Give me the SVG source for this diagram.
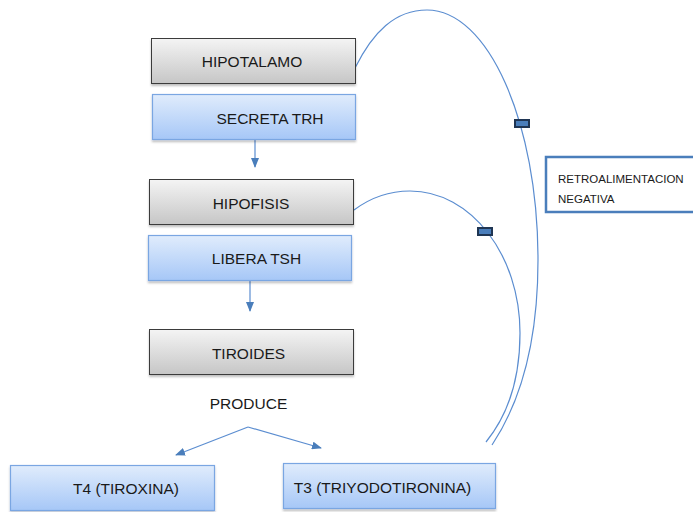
<svg xmlns="http://www.w3.org/2000/svg" width="693" height="512" viewBox="0 0 693 512">
<defs>
<linearGradient id="gGray" x1="0" y1="0" x2="0" y2="1"><stop offset="0" stop-color="#f4f4f4"/><stop offset="1" stop-color="#c6c6c6"/></linearGradient>
<linearGradient id="gBlue" x1="0" y1="0" x2="0" y2="1"><stop offset="0" stop-color="#e0ecfc"/><stop offset="1" stop-color="#a6c7f7"/></linearGradient>
<filter id="sh" x="-5%" y="-10%" width="110%" height="130%"><feDropShadow dx="0" dy="2" stdDeviation="1.2" flood-color="#000" flood-opacity="0.25"/></filter>
<marker id="ah" markerWidth="10" markerHeight="8" refX="9" refY="4" orient="auto" markerUnits="userSpaceOnUse"><path d="M0,0 L10,4 L0,8 Z" fill="#4a7ebb"/></marker>
</defs>
<style>
.gray{fill:url(#gGray);stroke:#3a3a3a;stroke-width:1;filter:url(#sh)}
.blue{fill:url(#gBlue);stroke:#7aa6e2;stroke-width:1.2;filter:url(#sh)}
.t{font-family:"Liberation Sans",Arial,sans-serif;font-size:15.5px;fill:#1a1a1a;text-anchor:middle}
.s{font-family:"Liberation Sans",Arial,sans-serif;font-size:11.5px;fill:#1a1a1a}
.ln{fill:none;stroke:#5b8dd0;stroke-width:1.2}
.mk{fill:#4a7ebb;stroke:#1f3553;stroke-width:2}
</style>
<g id="connectors">
<line class="ln" x1="255" y1="139" x2="255" y2="167" marker-end="url(#ah)"/>
<line class="ln" x1="250" y1="280" x2="250" y2="311" marker-end="url(#ah)"/>
<path class="ln" d="M248,427 L176,455" marker-end="url(#ah)"/>
<path class="ln" d="M248,427 L321,448" marker-end="url(#ah)"/>
<path class="ln" d="M355,68 C373,32 395,10 427,10 C488,10 538,122 538,260 C538,340 522,400 492,445"/>
<path class="ln" d="M354,210 C370,198 390,191 410,191 C471,191 520,255 520,333 C520,380 508,415 486,442"/>
<rect class="mk" x="515" y="120" width="14" height="7"/>
<rect class="mk" x="478" y="228" width="14" height="7"/>
</g>
<g id="hipotalamo"><rect class="gray" x="151.5" y="38.5" width="204" height="45"/><text class="t" x="252" y="67">HIPOTALAMO</text></g>
<g id="secreta"><rect class="blue" x="152.5" y="94.5" width="203" height="45"/><text class="t" x="270" y="124">SECRETA TRH</text></g>
<g id="hipofisis"><rect class="gray" x="149.5" y="179.5" width="204" height="45"/><text class="t" x="251" y="209">HIPOFISIS</text></g>
<g id="libera"><rect class="blue" x="148.5" y="235.5" width="203" height="45"/><text class="t" x="256.5" y="264">LIBERA TSH</text></g>
<g id="tiroides"><rect class="gray" x="149.5" y="329.5" width="204" height="45"/><text class="t" x="248.5" y="359">TIROIDES</text></g>
<g id="produce"><text class="t" x="248.5" y="409">PRODUCE</text></g>
<g id="t4"><rect class="blue" x="10.5" y="465.5" width="204" height="45"/><text class="t" x="126" y="494">T4 (TIROXINA)</text></g>
<g id="t3"><rect class="blue" x="283.5" y="463.5" width="212" height="45"/><text class="t" x="382.5" y="493">T3 (TRIYODOTIRONINA)</text></g>
<g id="retro"><rect x="546" y="157" width="150" height="55" fill="#fff" stroke="#4a7ebb" stroke-width="2.5"/><text class="s" x="558" y="183">RETROALIMENTACION</text><text class="s" x="558" y="203">NEGATIVA</text></g>
</svg>
